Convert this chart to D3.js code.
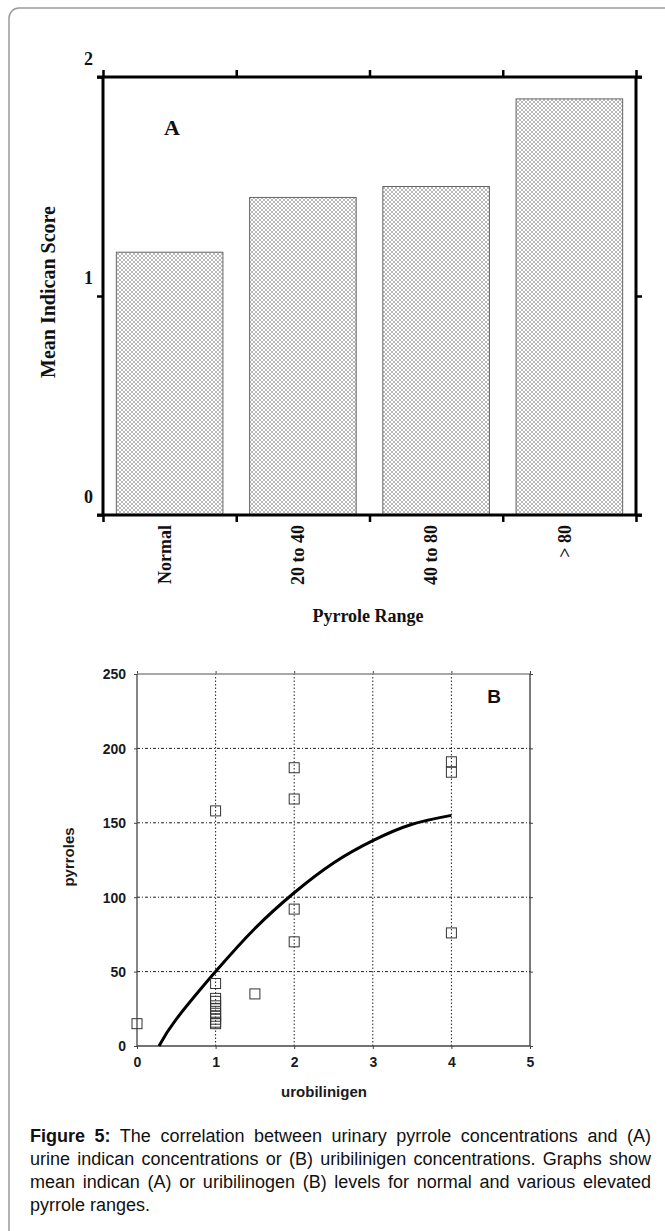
<!DOCTYPE html>
<html><head><meta charset="utf-8">
<script src="https://cdn.jsdelivr.net/npm/d3@7"></script>
<style>
body{margin:0;background:#fff;}
#wrap{position:relative;width:665px;height:1231px;overflow:hidden;background:#fff;}
svg{position:absolute;left:0;top:0;}
#caption{position:absolute;left:30px;top:1125px;width:621px;font-family:"Liberation Sans",Arial,sans-serif;font-size:18px;color:#111;}
#caption .ln{height:23px;line-height:23px;white-space:nowrap;text-align:justify;text-align-last:justify;}
#caption .ln.last{text-align:left;text-align-last:left;}
</style></head><body><div id="wrap"></div>
<script>
// ---- Panel A data ----
const categoriesA = ["Normal", "20 to 40", "40 to 80", "> 80"];
const valuesA = [1.2, 1.45, 1.5, 1.9];
const ticksA = [0, 1, 2];
// ---- Panel B data ----
const scatterX = [0, 1, 1, 1, 1, 1, 1, 1, 1, 1, 1, 1, 1.5, 2, 2, 2, 2, 4, 4, 4];
const scatterY = [15, 158, 42, 32, 30, 27, 25, 22, 20, 18, 16, 15, 35, 187, 166, 92, 70, 191, 184, 76];
const curveX = [0.28, 0.5, 1, 1.5, 2, 2.5, 3, 3.5, 4];
const curveY = [0, 18, 50, 79, 103, 123, 138, 149, 155];
const ticksBX = [0, 1, 2, 3, 4, 5];
const ticksBY = [0, 50, 100, 150, 200, 250];
const gridBX = [1, 2, 3, 4];
const gridBY = [50, 100, 150, 200];
// ---- caption lines ----
const captionLead = "Figure 5:";
const captionLines = [
  "The correlation between urinary pyrrole concentrations and (A)",
  "urine indican concentrations or (B) uribilinigen concentrations. Graphs show",
  "mean indican (A) or uribilinogen (B) levels for normal and various elevated",
  "pyrrole ranges."
];

const wrap = d3.select("#wrap");
const svg = wrap.append("svg").attr("width", 665).attr("height", 1231);

// pattern
const defs = svg.append("defs");
const pat = defs.append("pattern").attr("id", "hatch").attr("patternUnits", "userSpaceOnUse")
  .attr("width", 4).attr("height", 4);
pat.append("rect").attr("width", 4).attr("height", 4).attr("fill", "#fff");
pat.append("path").attr("d", "M0,0L4,4M0,4L4,0").attr("stroke", "#7a7a7a").attr("stroke-width", 0.55);

// outer frame
svg.append("rect").attr("x", 9).attr("y", 8).attr("width", 720).attr("height", 1300)
  .attr("rx", 10).attr("fill", "none").attr("stroke", "#9a9a9a").attr("stroke-width", 1.5);

// ================= Panel A =================
const serif = "'Liberation Serif','Times New Roman',serif";
const xA = d3.scaleBand().domain(categoriesA).range([103, 636]).paddingInner(0.2).paddingOuter(0.1);
const edgeA = d3.scaleLinear().domain([0, 4]).range([103, 636]);
const yA = d3.scaleLinear().domain([0, 2]).range([515, 77]);
const gA = svg.append("g");

gA.selectAll("rect.bar").data(valuesA).join("rect").attr("class", "bar")
  .attr("x", (d, i) => xA(categoriesA[i]))
  .attr("y", d => yA(d))
  .attr("width", xA.bandwidth())
  .attr("height", d => yA(0) - yA(d))
  .attr("fill", "url(#hatch)").attr("stroke", "#666").attr("stroke-width", 1);

function styleAxis(g) {
  g.select(".domain").remove();
  g.selectAll(".tick line").attr("stroke", "#000").attr("stroke-width", 2.5);
}
const edgeTicks = [0, 1, 2, 3, 4];
gA.append("g").attr("transform", `translate(0,${yA(2)})`)
  .call(d3.axisTop(edgeA).tickValues(edgeTicks).tickSize(7).tickSizeOuter(0).tickFormat(""))
  .call(styleAxis);
gA.append("g").attr("transform", `translate(0,${yA(0)})`)
  .call(d3.axisBottom(edgeA).tickValues(edgeTicks).tickSize(7).tickSizeOuter(0).tickFormat(""))
  .call(styleAxis);
const leftAx = gA.append("g").attr("transform", `translate(${edgeA(0)},0)`)
  .call(d3.axisLeft(yA).tickValues(ticksA).tickSize(6).tickSizeOuter(0).tickFormat(d3.format("d")))
  .call(styleAxis);
leftAx.selectAll(".tick text").attr("x", -10).attr("y", -19).attr("dy", "0.35em")
  .attr("font-family", serif).attr("font-weight", "bold").attr("font-size", 18).attr("fill", "#111");
gA.append("g").attr("transform", `translate(${edgeA(4)},0)`)
  .call(d3.axisRight(yA).tickValues(ticksA).tickSize(6).tickSizeOuter(0).tickFormat(""))
  .call(styleAxis);

// axis frame lines
const lw = 3;
gA.append("line").attr("x1", edgeA(0) - 6).attr("x2", edgeA(4) + 6).attr("y1", yA(2)).attr("y2", yA(2)).attr("stroke", "#000").attr("stroke-width", lw);
gA.append("line").attr("x1", edgeA(0) - 6).attr("x2", edgeA(4) + 6).attr("y1", yA(0)).attr("y2", yA(0)).attr("stroke", "#000").attr("stroke-width", lw);
gA.append("line").attr("x1", edgeA(0)).attr("x2", edgeA(0)).attr("y1", yA(2)).attr("y2", yA(0)).attr("stroke", "#000").attr("stroke-width", lw);
gA.append("line").attr("x1", edgeA(4)).attr("x2", edgeA(4)).attr("y1", yA(2)).attr("y2", yA(0)).attr("stroke", "#000").attr("stroke-width", lw);

// category labels (rotated)
gA.selectAll("text.cat").data(categoriesA).join("text").attr("class", "cat")
  .attr("transform", d => `translate(${xA(d) + xA.bandwidth() / 2 - 5},525) rotate(-90)`)
  .attr("text-anchor", "end").attr("dy", "0.35em")
  .attr("font-family", serif).attr("font-weight", "bold").attr("font-size", 18).attr("fill", "#111")
  .text(d => d);

gA.append("text").attr("x", 172).attr("y", 127).attr("dy", "0.35em").attr("text-anchor", "middle")
  .attr("font-family", serif).attr("font-weight", "bold").attr("font-size", 22).attr("fill", "#111").text("A");
gA.append("text").attr("transform", "translate(48,292) rotate(-90)").attr("text-anchor", "middle").attr("dy", "0.35em")
  .attr("font-family", serif).attr("font-weight", "bold").attr("font-size", 20).attr("fill", "#111").text("Mean Indican Score");
gA.append("text").attr("x", 368).attr("y", 616).attr("dy", "0.35em").attr("text-anchor", "middle")
  .attr("font-family", serif).attr("font-weight", "bold").attr("font-size", 18).attr("fill", "#111").text("Pyrrole Range");

// ================= Panel B =================
const sans = "'Liberation Sans',Arial,sans-serif";
const xB = d3.scaleLinear().domain([0, 5]).range([137, 530]);
const yB = d3.scaleLinear().domain([0, 250]).range([1046, 674]);
const gB = svg.append("g");

// grid
gB.selectAll("line.gx").data(gridBX).join("line").attr("class", "gx")
  .attr("x1", d => xB(d)).attr("x2", d => xB(d)).attr("y1", yB(0)).attr("y2", yB(250))
  .attr("stroke", "#222").attr("stroke-width", 1).attr("stroke-dasharray", "1.5,2");
gB.selectAll("line.gy").data(gridBY).join("line").attr("class", "gy")
  .attr("x1", xB(0)).attr("x2", xB(5)).attr("y1", d => yB(d)).attr("y2", d => yB(d))
  .attr("stroke", "#222").attr("stroke-width", 1).attr("stroke-dasharray", "3,2,1,2");

function styleB(g) {
  g.select(".domain").remove();
  g.selectAll(".tick line").attr("stroke", "#444").attr("stroke-width", 1);
  g.selectAll(".tick text").attr("font-family", sans).attr("font-weight", "bold").attr("font-size", 14).attr("fill", "#1a1a1a");
}
const bx = gB.append("g").attr("transform", `translate(0,${yB(0)})`)
  .call(d3.axisBottom(xB).tickValues(ticksBX).tickSize(3).tickSizeOuter(0).tickFormat(d3.format("d")))
  .call(styleB);
bx.selectAll(".tick text").attr("y", 16).attr("dy", "0.35em");
const by = gB.append("g").attr("transform", `translate(${xB(0)},0)`)
  .call(d3.axisLeft(yB).tickValues(ticksBY).tickSize(3).tickSizeOuter(0).tickFormat(d3.format("d")))
  .call(styleB);
by.selectAll(".tick text").attr("x", -11).attr("dy", "0.35em");
gB.append("g").attr("transform", `translate(0,${yB(250)})`)
  .call(d3.axisTop(xB).tickValues(ticksBX).tickSize(3).tickSizeOuter(0).tickFormat(""))
  .call(styleB);
gB.append("g").attr("transform", `translate(${xB(5)},0)`)
  .call(d3.axisRight(yB).tickValues(ticksBY).tickSize(3).tickSizeOuter(0).tickFormat(""))
  .call(styleB);

// frame
gB.append("line").attr("x1", xB(0)).attr("x2", xB(5)).attr("y1", yB(250)).attr("y2", yB(250)).attr("stroke", "#8a8a8a").attr("stroke-width", 1.3);
gB.append("line").attr("x1", xB(5)).attr("x2", xB(5)).attr("y1", yB(250)).attr("y2", yB(0)).attr("stroke", "#333").attr("stroke-width", 1.3);
gB.append("line").attr("x1", xB(0)).attr("x2", xB(5)).attr("y1", yB(0)).attr("y2", yB(0)).attr("stroke", "#444").attr("stroke-width", 1.3);
gB.append("line").attr("x1", xB(0)).attr("x2", xB(0)).attr("y1", yB(250)).attr("y2", yB(0)).attr("stroke", "#444").attr("stroke-width", 1.3);

// curve
const curvePts = curveX.map((x, i) => [x, curveY[i]]);
gB.append("path").datum(curvePts)
  .attr("d", d3.line().x(d => xB(d[0])).y(d => yB(d[1])).curve(d3.curveNatural))
  .attr("fill", "none").attr("stroke", "#000").attr("stroke-width", 3).attr("stroke-linejoin", "round");

// points
const pts = scatterX.map((x, i) => [x, scatterY[i]]);
gB.selectAll("rect.pt").data(pts).join("rect").attr("class", "pt")
  .attr("x", d => xB(d[0]) - 5).attr("y", d => yB(d[1]) - 5)
  .attr("width", 10).attr("height", 10)
  .attr("fill", "none").attr("stroke", "#333").attr("stroke-width", 1);

gB.append("text").attr("x", 494).attr("y", 696).attr("dy", "0.35em").attr("text-anchor", "middle")
  .attr("font-family", sans).attr("font-weight", "bold").attr("font-size", 19).attr("fill", "#111").text("B");
gB.append("text").attr("transform", "translate(69,857) rotate(-90)").attr("text-anchor", "middle").attr("dy", "0.35em")
  .attr("font-family", sans).attr("font-weight", "bold").attr("font-size", 15).attr("fill", "#1a1a1a").text("pyrroles");
gB.append("text").attr("x", 324).attr("y", 1092).attr("dy", "0.35em").attr("text-anchor", "middle")
  .attr("font-family", sans).attr("font-weight", "bold").attr("font-size", 15).attr("fill", "#1a1a1a").text("urobilinigen");

// caption
const cap = wrap.append("div").attr("id", "caption");
captionLines.forEach((t, i) => {
  const ln = cap.append("div").attr("class", "ln" + (i === captionLines.length - 1 ? " last" : ""));
  if (i === 0) {
    ln.append("b").text(captionLead);
    ln.append("span").text(" " + t);
  } else {
    ln.append("span").text(t);
  }
});
</script>
</body></html>
